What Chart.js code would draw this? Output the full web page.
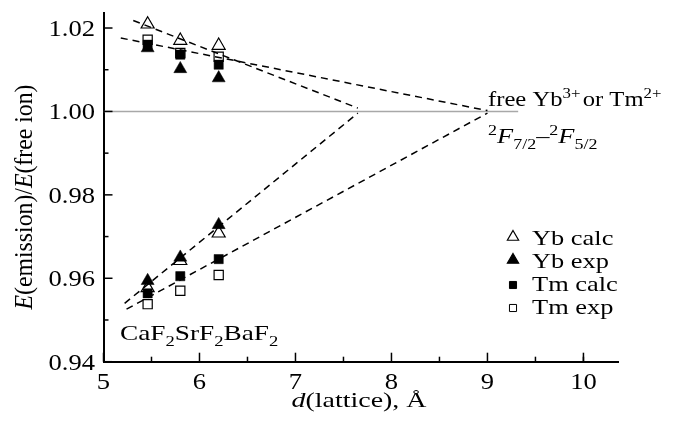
<!DOCTYPE html>
<html>
<head>
<meta charset="utf-8">
<script src="https://cdn.jsdelivr.net/npm/chart.js@4.4.0/dist/chart.umd.min.js"></script>
<style>
  body { margin: 0; background: #fff; }
  #wrap { width: 678px; height: 421px; }
</style>
</head>
<body>
<div id="wrap"><canvas id="latticeChart" width="678" height="421"></canvas></div>
<script>
const SERIF = '"Liberation Serif", "Times New Roman", serif';
// the original figure is stretched sideways, so the text is too
const STRETCH = 1.2;

// lattice constants of CaF2, SrF2, BaF2 (Å)
const lattice = [5.46, 5.80, 6.20];

// upper group
const ybCalcUpper = [1.0209, 1.0170, 1.0158];
const ybExpUpper = [1.0152, 1.0102, 1.0080];
const tmCalcUpper = [1.0160, 1.0136, 1.0112];
const tmExpUpper = [1.0172, 1.0140, 1.0131];

// lower group
const ybCalcLower = [0.9577, 0.9642, 0.9708];
const ybExpLower = [0.9594, 0.9650, 0.9728];
const tmCalcLower = [0.9564, 0.9605, 0.9646];
const tmExpLower = [0.9538, 0.9570, 0.9608];

// dashed extrapolation lines (end points)
const fitAX = [5.31, 7.65], fitAY = [1.0218, 1.0008];
const fitBX = [5.18, 9.00], fitBY = [1.0176, 1.0002];
const fitCX = [5.22, 7.65], fitCY = [0.9540, 0.9996];
const fitDX = [5.24, 9.00], fitDY = [0.9526, 0.9996];
const freeIonX = [5.0, 9.32], freeIonY = [1.0, 1.0];

const xTickValues = [5, 6, 7, 8, 9, 10];
const yTickValues = [0.94, 0.96, 0.98, 1.00, 1.02];
const xTickLabels = ["5", "6", "7", "8", "9", "10"];
const yTickLabels = ["0.94", "0.96", "0.98", "1.00", "1.02"];
const xMinorTicks = [5.5, 6.5, 7.5, 8.5, 9.5, 10];
const yMinorTicks = [0.95, 0.97, 0.99, 1.01];

const legendLabels = ["Yb calc", "Yb exp", "Tm calc", "Tm exp"];

function pts(xs, ys) {
  return xs.map((x, i) => ({ x: x, y: ys[i] }));
}

function markerSet(label, upper, lower, style, filled, radius, order) {
  return {
    label: label,
    data: pts(lattice, upper).concat(pts(lattice, lower)),
    showLine: false,
    pointStyle: style,
    pointRadius: radius,
    pointHoverRadius: radius,
    pointBackgroundColor: filled ? "#000" : "#fff",
    pointBorderColor: "#000",
    pointBorderWidth: filled ? 0.5 : 1.2,
    order: order,
  };
}

function dashed(xs, ys) {
  return {
    data: pts(xs, ys),
    showLine: true,
    borderColor: "#000",
    borderWidth: 1.5,
    borderDash: [7, 5],
    pointRadius: 0,
    order: -1,
  };
}

function setFont(ctx, p, base) {
  ctx.font = (p.italic ? "italic " : "") + (p.small ? 15 : base) + "px " + SERIF;
}

function richWidth(ctx, parts, base) {
  let w = 0;
  parts.forEach(p => {
    setFont(ctx, p, base);
    w += ctx.measureText(p.t).width + (p.gap || 0);
  });
  return w;
}

// draws text runs with sub/superscripts, stretched by sx
function drawRich(ctx, x, y, parts, opts) {
  const o = Object.assign({ sx: STRETCH, base: 22, align: "left" }, opts || {});
  ctx.save();
  ctx.translate(x, y);
  ctx.scale(o.sx, 1);
  let cx = 0;
  if (o.align === "center") cx = -richWidth(ctx, parts, o.base) / 2;
  if (o.align === "right") cx = -richWidth(ctx, parts, o.base);
  parts.forEach(p => {
    setFont(ctx, p, o.base);
    const dy = p.sup ? -8 : p.sub ? 6 : 0;
    ctx.fillText(p.t, cx, dy);
    cx += ctx.measureText(p.t).width + (p.gap || 0);
  });
  ctx.restore();
}

const decorations = {
  id: "decorations",
  afterDraw(chart) {
    const ctx = chart.ctx;
    const xs = chart.scales.x, ys = chart.scales.y;
    const area = chart.chartArea;
    ctx.save();

    // inward tick marks
    ctx.strokeStyle = "#000";
    ctx.lineWidth = 1.5;
    const tick = (x1, y1, x2, y2) => {
      ctx.beginPath(); ctx.moveTo(x1, y1); ctx.lineTo(x2, y2); ctx.stroke();
    };
    xTickValues.forEach(v => { const px = xs.getPixelForValue(v); tick(px, area.bottom, px, area.bottom - 9); });
    xMinorTicks.forEach(v => { const px = xs.getPixelForValue(v); tick(px, area.bottom, px, area.bottom - 5); });
    yTickValues.forEach(v => { const py = ys.getPixelForValue(v); tick(area.left, py, area.left + 9, py); });
    yMinorTicks.forEach(v => { const py = ys.getPixelForValue(v); tick(area.left, py, area.left + 5, py); });

    ctx.fillStyle = "#000";
    ctx.textBaseline = "alphabetic";
    ctx.textAlign = "left";

    // tick labels
    xTickValues.forEach((v, i) => {
      drawRich(ctx, xs.getPixelForValue(v), area.bottom + 27, [{ t: xTickLabels[i] }], { align: "center", base: 23.5, sx: 1.13 });
    });
    yTickValues.forEach((v, i) => {
      drawRich(ctx, area.left - 8.5, ys.getPixelForValue(v) + 8, [{ t: yTickLabels[i] }], { align: "right", base: 23.5, sx: 1.13 });
    });

    // annotations
    drawRich(ctx, 488, 106, [
      { t: "free Yb" }, { t: "3+", small: true, sup: true, gap: 2 },
      { t: "or Tm" }, { t: "2+", small: true, sup: true },
    ], { sx: 1.12 });
    drawRich(ctx, 488, 143, [
      { t: "2", small: true, sup: true }, { t: "F", italic: true },
      { t: "7/2", small: true, sub: true }, { t: "\u2013" },
      { t: "2", small: true, sup: true }, { t: "F", italic: true },
      { t: "5/2", small: true, sub: true },
    ]);
    drawRich(ctx, 120, 340, [
      { t: "CaF" }, { t: "2", small: true, sub: true },
      { t: "SrF" }, { t: "2", small: true, sub: true },
      { t: "BaF" }, { t: "2", small: true, sub: true },
    ], { sx: 1.24 });

    // axis titles
    drawRich(ctx, 359, 407, [{ t: "d", italic: true }, { t: "(lattice), \u00c5" }], { align: "center", sx: 1.27 });

    ctx.save();
    ctx.translate(32, 197);
    ctx.rotate(-Math.PI / 2);
    ctx.scale(1, 1.15);
    drawRich(ctx, 0, 0, [
      { t: "E", italic: true }, { t: "(emission)/" },
      { t: "E", italic: true }, { t: "(free ion)" },
    ], { align: "center", sx: 1.08 });
    ctx.restore();

    // legend
    const rows = [245, 268, 291, 314];
    chart.data.datasets.filter(d => d.label).forEach((d, i) => {
      const isTri = d.pointStyle === "triangle";
      ctx.fillStyle = d.pointBackgroundColor;
      ctx.strokeStyle = "#000";
      ctx.lineWidth = isTri ? 1.2 : 1;
      Chart.helpers.drawPoint(ctx, {
        pointStyle: d.pointStyle,
        radius: isTri ? 6.5 : 5,
        rotation: 0,
        borderWidth: 1,
      }, 513, rows[i] - (isTri ? 8 : 6));
      ctx.fillStyle = "#000";
      drawRich(ctx, 532, rows[i], [{ t: legendLabels[i] }]);
    });

    ctx.restore();
  },
};

new Chart(document.getElementById("latticeChart").getContext("2d"), {
  type: "scatter",
  data: {
    datasets: [
      markerSet(legendLabels[0], ybCalcUpper, ybCalcLower, "triangle", false, 7.5, 3),
      markerSet(legendLabels[1], ybExpUpper, ybExpLower, "triangle", true, 7.5, 0),
      markerSet(legendLabels[2], tmCalcUpper, tmCalcLower, "rect", true, 6.5, 1),
      markerSet(legendLabels[3], tmExpUpper, tmExpLower, "rect", false, 6.5, 2),
      dashed(fitAX, fitAY),
      dashed(fitBX, fitBY),
      dashed(fitCX, fitCY),
      dashed(fitDX, fitDY),
      {
        data: pts(freeIonX, freeIonY),
        showLine: true,
        borderColor: "#a8a8a8",
        borderWidth: 1.5,
        pointRadius: 0,
        order: 10,
      },
    ],
  },
  options: {
    responsive: false,
    animation: false,
    events: [],
    layout: { padding: { left: 0, right: 60, top: 13, bottom: 0 } },
    plugins: { legend: { display: false }, tooltip: { enabled: false } },
    scales: {
      x: {
        type: "linear",
        min: 5,
        max: 10.36,
        grid: { display: false, drawTicks: false },
        border: { display: true, color: "#000", width: 2 },
        ticks: { display: false },
        afterBuildTicks: axis => { axis.ticks = xTickValues.map(v => ({ value: v })); },
        afterFit: axis => { axis.height = 59.3; },
      },
      y: {
        type: "linear",
        min: 0.94,
        max: 1.0236,
        grid: { display: false, drawTicks: false },
        border: { display: true, color: "#000", width: 2 },
        ticks: { display: false },
        afterBuildTicks: axis => { axis.ticks = yTickValues.map(v => ({ value: v })); },
        afterFit: axis => { axis.width = 103.5; },
      },
    },
  },
  plugins: [decorations],
});
</script>
</body>
</html>
